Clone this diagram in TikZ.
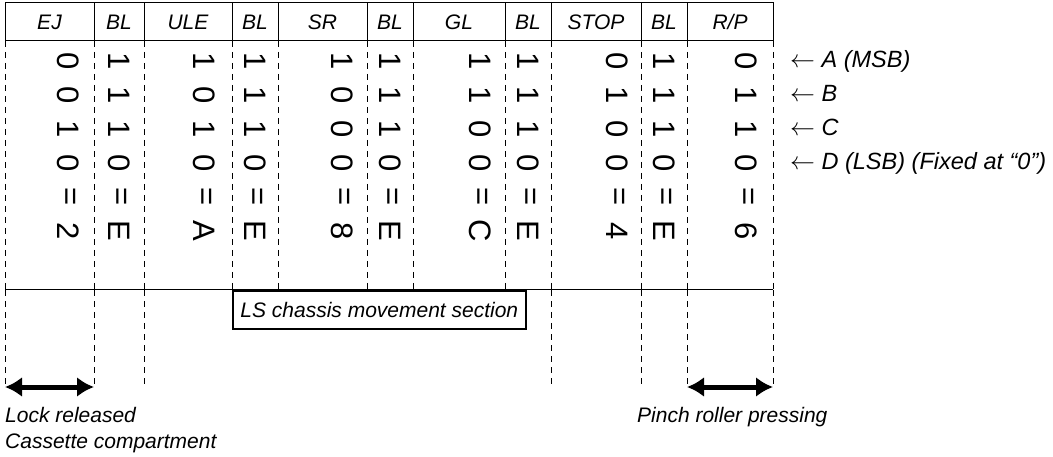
\documentclass[tikz,border=0pt]{standalone}
\usepackage{fontspec}
\setmainfont{Liberation Sans}
\usetikzlibrary{arrows.meta,positioning}
\newcommand\rpname{R/P}
\begin{document}
\begin{tikzpicture}[x=1pt,y=-1pt,>=Latex,
 hdr/.style={font=\fontsize{21}{25}\selectfont\itshape,inner sep=0pt},
 bit/.style={font=\fontsize{31}{34}\selectfont,rotate=-90,inner sep=0pt},
 lbl/.style={font=\fontsize{21}{25}\selectfont\itshape,inner sep=0pt},
 rowlbl/.style={font=\fontsize{23.5}{27}\selectfont\itshape,inner sep=0pt,anchor=base west},
 grid/.style={line width=1pt},
 guide/.style={line width=0.9pt,dash pattern=on 6pt off 5pt},
 span/.style={<->,line width=5pt,>={Latex[length=17pt,width=20pt]}}]
\useasboundingbox (0,0) rectangle (1053,457);
\draw[grid] (5,3) rectangle (773,41);
\foreach \x in {5,94,144,232,278,367,413,505,551,641,687,773}{
 \draw[grid] (\x,3) -- (\x,41);
 \draw[guide] (\x,41) -- (\x,290);
}
\foreach \x in {5,94,144,551,641,687,773}
 \draw[guide] (\x,290) -- (\x,385);
\draw[grid] (5,290) -- (773,290);
\foreach [count=\i] \xl/\xr/\lab/\bx/\ba/\bb/\bc/\bd/\val in {
 5/94/EJ/68/0/0/1/0/2, 94/144/BL/119/1/1/1/0/E, 144/232/ULE/204/1/0/1/0/A,
 232/278/BL/255/1/1/1/0/E, 278/367/SR/342/1/0/0/0/8, 367/413/BL/390/1/1/1/0/E,
 413/505/GL/480/1/1/0/0/C, 505/551/BL/528/1/1/1/0/E, 551/641/STOP/617/0/1/0/0/4,
 641/687/BL/664/1/1/1/0/E, 687/773/\rpname/746/0/1/1/0/6}{
 \node[hdr] (h\i) at ({(\xl+\xr)/2},22) {\lab};
 \node[bit] (a\i) at (\bx,61) {\ba};
 \node[bit] (b\i) at (\bx,95) {\bb};
 \node[bit] (c\i) at (\bx,129) {\bc};
 \node[bit] (d\i) at (\bx,163) {\bd};
 \node[bit] (eq\i) at (\bx,197) {=};
 \node[bit] (v\i) at (\bx,231) {\val};
}
\node[rowlbl] (msb) at (790,68) {$\leftarrow$ A (MSB)};
\node[rowlbl] (bitb) at (790,102) {$\leftarrow$ B};
\node[rowlbl] (bitc) at (790,136) {$\leftarrow$ C};
\node[rowlbl] (lsb) at (790,170) {$\leftarrow$ D (LSB) (Fixed at “0”)};
\node[lbl,draw,line width=1.6pt,anchor=north west,minimum width=293pt,minimum height=38pt] (ls) at (232,290) {LS chassis movement section};
\coordinate (ejL) at (5,387);
\coordinate (ejR) at (94,387);
\coordinate (rpL) at (687,387);
\coordinate (rpR) at (773,387);
\draw[span] (ejL) -- (ejR);
\draw[span] (rpL) -- (rpR);
\node[lbl,anchor=base west] (lock) at (5,422) {Lock released};
\node[lbl,anchor=base west] (cass) at (5,448) {Cassette compartment};
\node[lbl,anchor=base west] (pinch) at (637,422) {Pinch roller pressing};
\end{tikzpicture}
\end{document}
